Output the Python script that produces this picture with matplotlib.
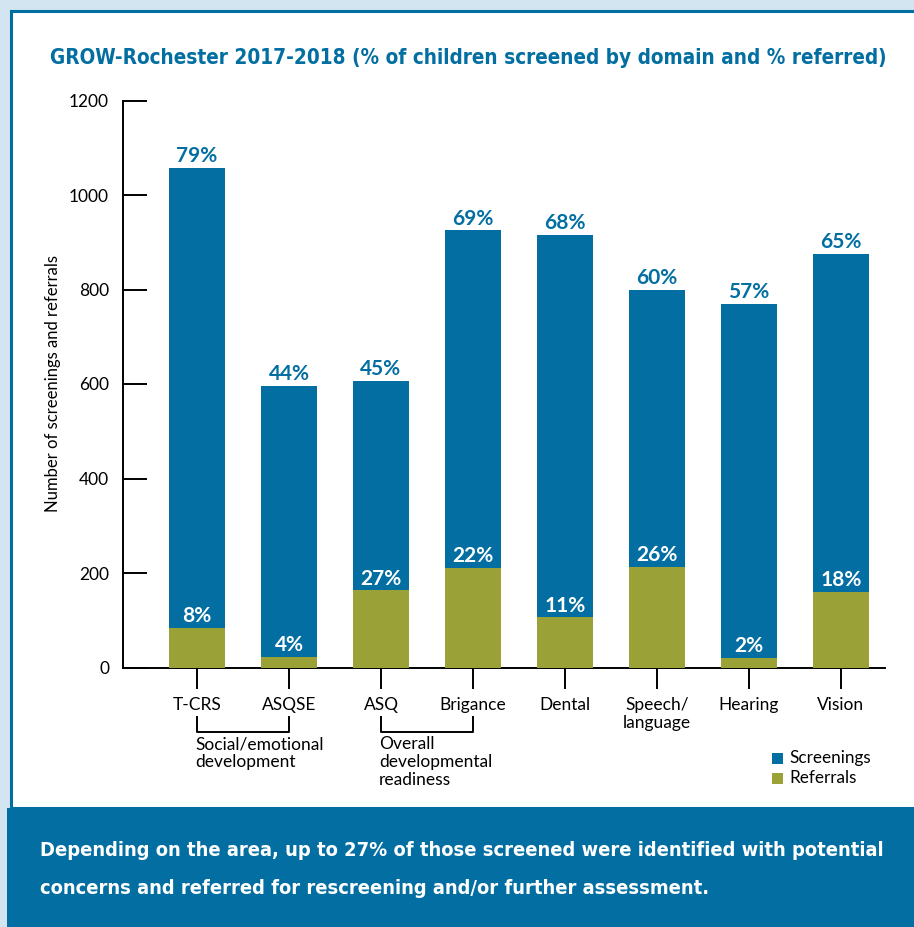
import matplotlib
matplotlib.use("Agg")
import matplotlib.pyplot as plt
from matplotlib.patches import Rectangle
from matplotlib import font_manager as fm
from matplotlib.transforms import blended_transform_factory

categories = ["T-CRS", "ASQSE", "ASQ", "Brigance", "Dental", "Speech/\nlanguage", "Hearing", "Vision"]
screenings = [1058, 595, 607, 925, 916, 800, 770, 876]
referrals = [83, 23, 163, 210, 106, 212, 20, 159]
screen_pct = ["79%", "44%", "45%", "69%", "68%", "60%", "57%", "65%"]
refer_pct = ["8%", "4%", "27%", "22%", "11%", "26%", "2%", "18%"]
yticks = [0, 200, 400, 600, 800, 1000, 1200]
groups = [("Social/emotional\ndevelopment", 0, 1), ("Overall\ndevelopmental\nreadiness", 2, 3)]
title = "GROW-Rochester 2017-2018 (% of children screened by domain and % referred)"
note1 = "Depending on the area, up to 27% of those screened were identified with potential"
note2 = "concerns and referred for rescreening and/or further assessment."

BLUE = "#026ea1"
GREEN = "#9aa137"
BG = "#d2e5f0"

# prefer a condensed face for the narrow headings if one is installed
cond_family = None
for f in fm.fontManager.ttflist:
    st = str(f.stretch).lower()
    if ("condensed" in st or "narrow" in f.name.lower() or "condensed" in f.name.lower()
            or (st.isdigit() and int(st) < 500)):
        cond_family = f.name
        break
narrow_fam = [cond_family, "DejaVu Sans"] if cond_family else ["DejaVu Sans"]

names = {f.name for f in fm.fontManager.ttflist}
body = "Lato" if "Lato" in names else "DejaVu Sans"
plt.rcParams["font.family"] = [body, "DejaVu Sans"]

W, H = 914, 927
fig = plt.figure(figsize=(W / 100, H / 100), dpi=100)
fig.patch.set_facecolor(BG)


def fx(px):
    return px / W


def fy(py):
    return 1 - py / H


fig.add_artist(Rectangle((fx(11), fy(808)), fx(W + 20 - 11), (808 - 11) / H,
                         transform=fig.transFigure, facecolor="white",
                         edgecolor=BLUE, linewidth=2.2, zorder=0))
fig.add_artist(Rectangle((fx(7), 0), fx(W), fy(808),
                         transform=fig.transFigure, facecolor=BLUE,
                         edgecolor="none", zorder=1))

t_title = fig.text(fx(468), fy(58), title, ha="center", va="center", color=BLUE,
                   fontsize=18.5, fontweight="bold", family=narrow_fam, fontstretch="condensed")
t_n1 = fig.text(fx(40), fy(851), note1, ha="left", va="center", color="white",
                fontsize=17.5, fontweight="bold", family=narrow_fam, fontstretch="condensed")
t_n2 = fig.text(fx(40), fy(888), note2, ha="left", va="center", color="white",
                fontsize=17.5, fontweight="bold", family=narrow_fam, fontstretch="condensed")

x0, x1 = 123, 885
y0, y1 = 667.5, 100.5
ax = fig.add_axes([fx(x0), fy(y0), fx(x1 - x0), (y0 - y1) / H])
ax.set_facecolor("none")
x = list(range(len(categories)))
ax.set_xlim((x0 - 197) / 92, (x1 - 197) / 92)
ax.set_ylim(0, 1200)

bw = 56 / 92
ax.bar(x, screenings, width=bw, color=BLUE, zorder=2)
ax.bar(x, referrals, width=bw, color=GREEN, zorder=3)

for i in x:
    ax.text(i, screenings[i] + 4, screen_pct[i], ha="center", va="bottom",
            color=BLUE, fontsize=15, fontweight="bold", zorder=4)
    ax.text(i, referrals[i] + 4, refer_pct[i], ha="center", va="bottom",
            color="white", fontsize=15, fontweight="bold", zorder=4)

for s in ["top", "right"]:
    ax.spines[s].set_visible(False)
ax.spines["left"].set_linewidth(1.4)
ax.spines["bottom"].set_linewidth(1.4)

ax.set_yticks(yticks)
ax.set_yticklabels([str(v) for v in yticks])
ax.tick_params(axis="y", direction="in", length=17, width=1.4, labelsize=12.5, pad=10)
ax.set_xticks(x)
ax.set_xticklabels(categories, linespacing=1.15)
ax.tick_params(axis="x", direction="out", length=15, width=1.4, labelsize=12.5, pad=6)

ax.set_ylabel("Number of screenings and referrals", fontsize=12)
ax.yaxis.set_label_coords((61 - x0) / (x1 - x0), 0.5)

tr = blended_transform_factory(ax.transData, fig.transFigure)
for label, a, b in groups:
    ax.plot([a, a, b, b], [fy(717), fy(732), fy(732), fy(717)], transform=tr,
            color="black", lw=1.4, clip_on=False)
    ax.text(a - 0.02, fy(736), label, transform=tr, ha="left", va="top",
            fontsize=12.5, linespacing=1.15, clip_on=False)

for j, (lab, col) in enumerate([("Screenings", BLUE), ("Referrals", GREEN)]):
    yc = 758 + 20 * j
    fig.add_artist(Rectangle((fx(772), fy(yc + 5.5)), fx(11), 11 / H,
                             transform=fig.transFigure, facecolor=col, edgecolor="none"))
    fig.text(fx(789), fy(yc), lab, ha="left", va="center", fontsize=12.3)

# fit the heading texts to the widths they take in the reference
fig.canvas.draw()
r = fig.canvas.get_renderer()
for t, target in [(t_title, 842), (t_n1, 848), (t_n2, 848 * 0.79)]:
    w = t.get_window_extent(r).width
    if w > target:
        t.set_fontsize(t.get_fontsize() * target / w)
s = min(t_n1.get_fontsize(), t_n2.get_fontsize())
t_n1.set_fontsize(s)
t_n2.set_fontsize(s)

fig.savefig("out.png", dpi=100, facecolor=fig.get_facecolor())
